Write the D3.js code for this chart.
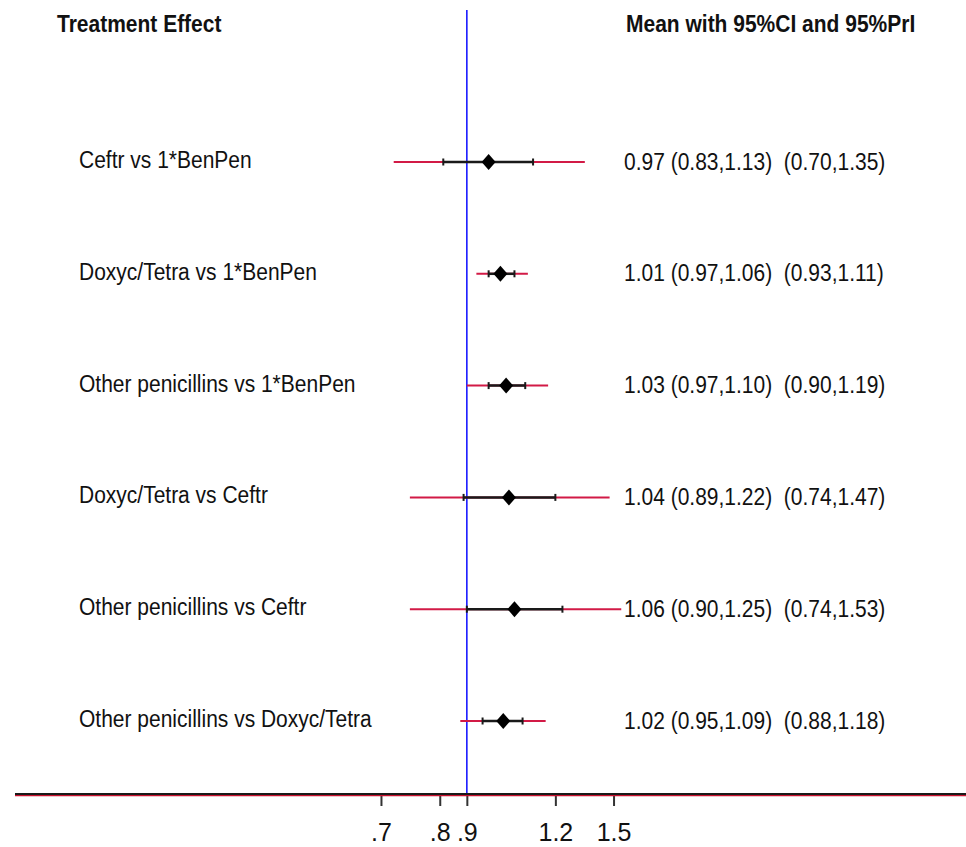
<!DOCTYPE html>
<html lang="en">
<head>
  <meta charset="UTF-8">
  <title>Forest plot</title>
  <script src="https://d3js.org/d3.v7.min.js"></script>
  <style>
    body { margin: 0; background: #fff; }
    text { font-family: "Liberation Sans", Arial, sans-serif; fill: #111; }
  </style>
</head>
<body>
  <div id="viz"></div>

  <script>
    // Data
    const comparisons = [
      "Ceftr vs 1*BenPen",
      "Doxyc/Tetra vs 1*BenPen",
      "Other penicillins vs 1*BenPen",
      "Doxyc/Tetra vs Ceftr",
      "Other penicillins vs Ceftr",
      "Other penicillins vs Doxyc/Tetra"
    ];
    const means   = [0.97, 1.01, 1.03, 1.04, 1.06, 1.02];
    const ciLow   = [0.83, 0.97, 0.97, 0.89, 0.90, 0.95];
    const ciHigh  = [1.13, 1.06, 1.10, 1.22, 1.25, 1.09];
    const priLow  = [0.70, 0.93, 0.90, 0.74, 0.74, 0.88];
    const priHigh = [1.35, 1.11, 1.19, 1.47, 1.53, 1.18];

    const tickValues = [0.67, 0.82, 0.9, 1.22, 1.49];
    const tickLabels = [".7", ".8", ".9", "1.2", "1.5"];
    const refValue = 0.9;

    const width = 966, height = 847;
    const axisY = 794;
    const stretch = 1.12;   // text in the original is a bit taller than wide

    const rows = comparisons.map((c, i) => ({
      label: c, mean: means[i], lo: ciLow[i], hi: ciHigh[i], plo: priLow[i], phi: priHigh[i]
    }));

    const svg = d3.select('#viz')
      .append('svg')
        .attr('width', width)
        .attr('height', height);

    svg.append('rect').attr('width', width).attr('height', height).attr('fill', '#fff');

    // log scale on the ratio
    const x = d3.scaleLog()
      .domain([0.5, 2])
      .range([295.8, 699.2]);

    const y = d3.scalePoint()
      .domain(comparisons)
      .range([162, 721]);

    const place = (tx, ty) => `translate(${tx}, ${ty}) scale(1, ${stretch})`;

    // reference line
    svg.append('line')
      .attr('x1', x(refValue)).attr('x2', x(refValue))
      .attr('y1', 10).attr('y2', axisY)
      .attr('stroke', '#1a1aff')
      .attr('stroke-width', 1.6);

    // bottom axis
    const axis = svg.append('g')
      .attr('transform', `translate(0, ${axisY})`)
      .call(d3.axisBottom(x)
        .tickValues(tickValues)
        .tickFormat((d, i) => tickLabels[i])
        .tickSize(12));
    axis.select('.domain').remove();
    axis.selectAll('.tick line')
      .attr('stroke', '#333')
      .attr('stroke-width', 2);
    axis.selectAll('.tick text')
      .attr('y', 47).attr('dy', 0)
      .attr('font-size', 25)
      .attr('font-family', '"Liberation Sans", Arial, sans-serif')
      .attr('fill', '#111');

    svg.append('line')
      .attr('x1', 15).attr('x2', width)
      .attr('y1', axisY + 1.5).attr('y2', axisY + 1.5)
      .attr('stroke', '#c8102e').attr('stroke-width', 1.5);
    svg.append('line')
      .attr('x1', 15).attr('x2', width)
      .attr('y1', axisY).attr('y2', axisY)
      .attr('stroke', '#1a1a1a').attr('stroke-width', 2);

    // headers
    svg.append('text')
      .attr('transform', place(57, 32))
      .attr('font-size', 21).attr('font-weight', 'bold')
      .text('Treatment Effect');
    svg.append('text')
      .attr('transform', place(626, 32))
      .attr('font-size', 21).attr('font-weight', 'bold')
      .text('Mean with 95%CI and 95%PrI');

    const row = svg.selectAll('g.row')
      .data(rows)
      .enter()
      .append('g')
        .attr('class', 'row')
        .attr('transform', d => `translate(0, ${y(d.label)})`);

    // prediction interval
    row.append('line')
      .attr('x1', d => x(d.plo)).attr('x2', d => x(d.phi))
      .attr('stroke', '#d21a46')
      .attr('stroke-width', 2);

    // confidence interval
    row.append('line')
      .attr('x1', d => x(d.lo)).attr('x2', d => x(d.hi))
      .attr('stroke', '#1a1a1a')
      .attr('stroke-width', 2.5);
    row.selectAll('line.cap')
      .data(d => [d.lo, d.hi])
      .enter()
      .append('line')
        .attr('class', 'cap')
        .attr('x1', v => x(v)).attr('x2', v => x(v))
        .attr('y1', -3.5).attr('y2', 3.5)
        .attr('stroke', '#1a1a1a')
        .attr('stroke-width', 2);

    // mean
    row.append('path')
      .attr('d', 'M0,-8L7,0L0,8L-7,0Z')
      .attr('transform', d => `translate(${x(d.mean)}, 0)`)
      .attr('fill', '#000');

    // labels
    row.append('text')
      .attr('transform', place(79, 6))
      .attr('font-size', 21)
      .text(d => d.label);

    const f = d3.format('.2f');
    row.append('text')
      .attr('transform', place(624, 7.5))
      .attr('font-size', 21)
      .attr('xml:space', 'preserve')
      .style('white-space', 'pre')
      .text(d => `${f(d.mean)} (${f(d.lo)},${f(d.hi)})  (${f(d.plo)},${f(d.phi)})`);
  </script>
</body>
</html>
